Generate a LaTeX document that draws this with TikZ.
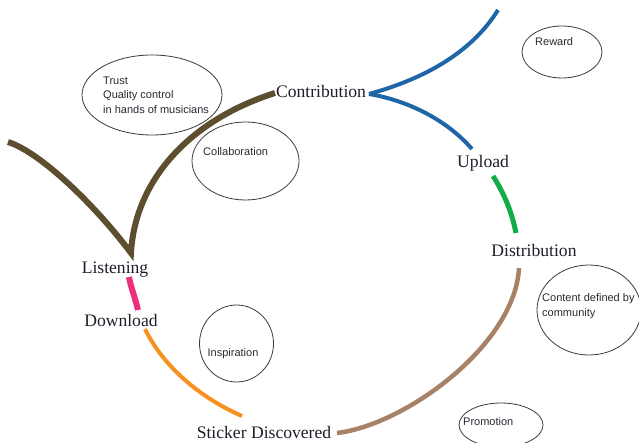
\documentclass[tikz,border=0pt]{standalone}
\usepackage{fontspec}
\setmainfont{Liberation Serif}
\newfontfamily\notefont{Liberation Sans}
\usetikzlibrary{shapes.geometric,calc}
\definecolor{stagetext}{HTML}{1E1E2A}
\definecolor{notetext}{HTML}{2E2632}
\definecolor{bubbleline}{HTML}{3A3A3A}
\definecolor{cblue}{HTML}{1E66A8}
\definecolor{cgreen}{HTML}{12AD4A}
\definecolor{ctan}{HTML}{A88267}
\definecolor{corange}{HTML}{F7901E}
\definecolor{cpink}{HTML}{EC2F7B}
\definecolor{cbrown}{HTML}{5E4E30}
\begin{document}
\begin{tikzpicture}[x=1pt,y=-1pt,
  stage/.style={font=\fontsize{17.6}{20}\selectfont, text=stagetext, inner sep=0, anchor=base},
  note/.style={font=\notefont\fontsize{11}{14.5}\selectfont, text=notetext, inner sep=0, align=left, anchor=west},
  bubble/.style={ellipse, draw=bubbleline, line width=0.8pt, inner sep=0},
  flow/.style={line width=#1, line cap=butt}]
\useasboundingbox (0,0) rectangle (639,443);

% bubbles
\node[bubble, minimum width=140, minimum height=80] (trustb) at (152,95) {};
\node[bubble, minimum width=107, minimum height=78] (collabb) at (245.5,161) {};
\node[bubble, minimum width=80, minimum height=52] (rewardb) at (562,52) {};
\node[bubble, minimum width=74, minimum height=77] (inspb) at (236.5,343.5) {};
\node[bubble, minimum width=104, minimum height=90] (contentb) at (589,310) {};
\node[bubble, minimum width=84, minimum height=44] (promob) at (501,425) {};

\node[note] (trust) at (103,95) {Trust\\Quality control\\in hands of musicians};
\node[note] (collab) at (203,152) {Collaboration};
\node[note] (reward) at (535,42) {Reward};
\node[note, anchor=center] (insp) at (233,354) {Inspiration};
\node[note] (content) at (542,306) {Content defined by\\community};
\node[note] (promo) at (463,422) {Promotion};

% stages
\node[stage] (contribution) at (321,98) {Contribution};
\node[stage] (upload) at (483,168) {Upload};
\node[stage] (distribution) at (534,257) {Distribution};
\node[stage] (sticker) at (264,438) {Sticker Discovered};
\node[stage] (download) at (121,326) {Download};
\node[stage] (listening) at (115,273) {Listening};

\coordinate (bluefree) at (498,10);
\coordinate (brownfree) at (8,142);

% connectors
\draw[flow=4pt, cblue] ($(contribution.base)+(48,-4)$) .. controls (420,80) and (470,55) .. (bluefree);
\draw[flow=4pt, cblue] ($(contribution.base)+(48,-4)$) .. controls (405,100) and (445,118) .. ($(upload.base)+(-11,-19)$);
\draw[flow=5pt, cgreen] ($(upload.base)+(10,8)$) .. controls (505,195) and (512,213) .. ($(distribution.base)+(-18,-24)$);
\draw[flow=4.5pt, ctan] ($(distribution.base)+(-15,11)$) .. controls (515,345) and (405,425) .. ($(sticker.base)+(73,-5)$);
\draw[flow=4pt, corange] ($(sticker.base)+(-22,-22)$) .. controls (205,400) and (165,370) .. ($(download.base)+(24,3)$);
\draw[flow=6pt, cpink] ($(download.base)+(17,-16)$) .. controls (135,297) and (131,288) .. ($(listening.base)+(14,4)$);
\draw[flow=6pt, cbrown, line join=miter] (brownfree) .. controls (40,152) and (95,205) .. ($(listening.base)+(16,-20)$)
   .. controls (135,180) and (190,120) .. ($(contribution.base)+(-46,-5)$);
\end{tikzpicture}
\end{document}
